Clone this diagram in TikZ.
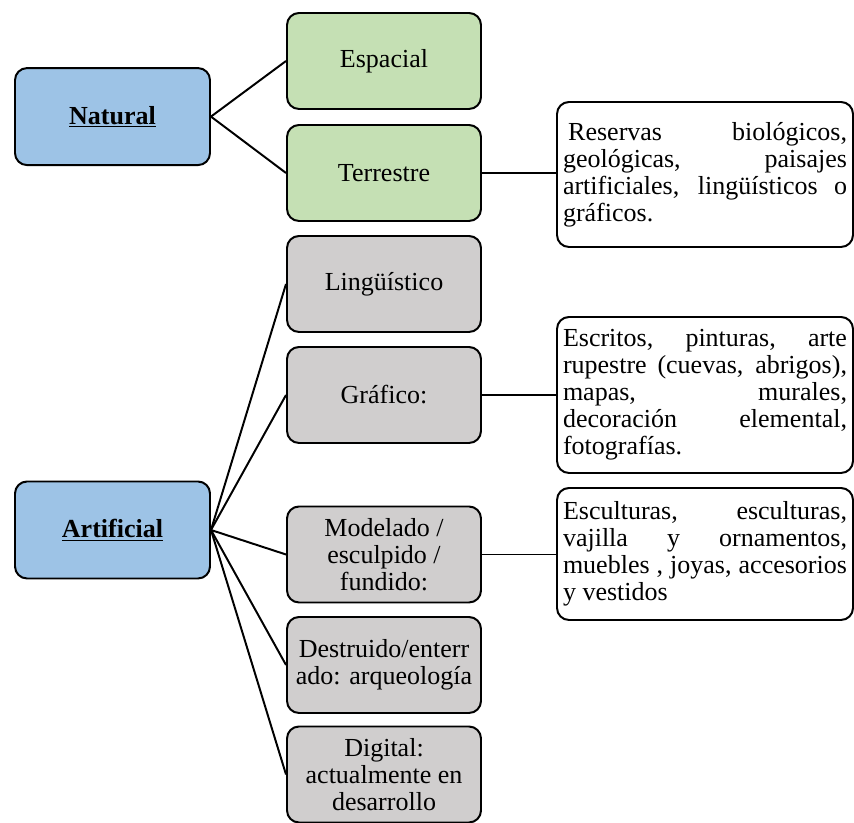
\documentclass[tikz,border=0pt]{standalone}
\usepackage{fontspec}
\setmainfont{Liberation Serif}
\usepackage{tikz}
\definecolor{blueish}{RGB}{157,195,230}
\definecolor{greenish}{RGB}{197,224,180}
\definecolor{grayish}{RGB}{208,206,206}

\begin{document}
\begin{tikzpicture}
      [scale = 1,
      font = \fontsize{18.5}{19.2}\selectfont,
      box/.style= {
         draw,
         rounded corners = 0.3cm,
         line width = 1.4pt,
         minimum width = 4.85cm,
         minimum height = 2.4cm,
         inner sep = 3pt,
         align = center
      },
      main/.style= {box, fill = blueish, minimum width = 4.875cm, minimum height = 2.425cm},
      leaf/.style= {box, fill = greenish},
      kind/.style= {box, fill = grayish},
      note/.style= {
         box,
         fill = white,
         minimum width = 7.4cm,
         text width = 7.1cm,
         inner xsep = 0.15cm,
         align = justify
      },
      link/.style= {line width = 1.4pt}]

      \useasboundingbox (0, 0) rectangle (21.35, 20.575);

      \node[main] (natural) at (2.8125, 17.66) {\underline{\textbf{Natural}}};
      \node[main] (artificial) at (2.8125, 7.325) {\underline{\textbf{Artificial}}};

      \node[leaf] (espacial) at (9.6, 19.05) {Espacial};
      \node[leaf] (terrestre) at (9.6, 16.25) {Terrestre};

      \node[kind] (linguistico) at (9.6, 13.475) {Lingüístico};
      \node[kind] (grafico) at (9.6, 10.7) {Gráfico:};
      \node[kind] (modelado) at (9.6, 6.7125) {Modelado /\\esculpido /\\fundido:};
      \node[kind] (destruido) at (9.6, 3.95) {Destruido/enterr\\ado: arqueología};
      \node[kind] (digital) at (9.6, 1.2125) {Digital:\\actualmente en\\desarrollo};

      \node[note, minimum height = 3.625cm] (reservas) at (17.625, 16.2125)
         {\hspace{0.2em}Reservas biológicos,\linebreak geológicas, paisajes\linebreak artificiales, lingüísticos o\linebreak gráficos.};
      \node[note, minimum height = 3.9cm] (escritos) at (17.625, 10.7)
         {Escritos, pinturas, arte\linebreak rupestre (cuevas, abrigos),\linebreak mapas, murales,\linebreak decoración elemental,\linebreak fotografías.};
      \node[note, minimum height = 3.3cm] (esculturas) at (17.625, 6.725)
         {Esculturas, esculturas,\linebreak vajilla y ornamentos,\linebreak muebles , joyas, accesorios\linebreak y vestidos};

      \draw[link] (natural.east) -- (espacial.west);
      \draw[link] (natural.east) -- (terrestre.west);
      \foreach \k in {linguistico, grafico, modelado, destruido, digital}
         \draw[link] (artificial.east) -- (\k.west);

      \draw[link] (terrestre.east) -- (terrestre.east -| reservas.west);
      \draw[link] (grafico.east) -- (escritos.west);
      \draw[link] (modelado.east) -- (modelado.east -| esculturas.west);

   \end{tikzpicture}
\end{document}
